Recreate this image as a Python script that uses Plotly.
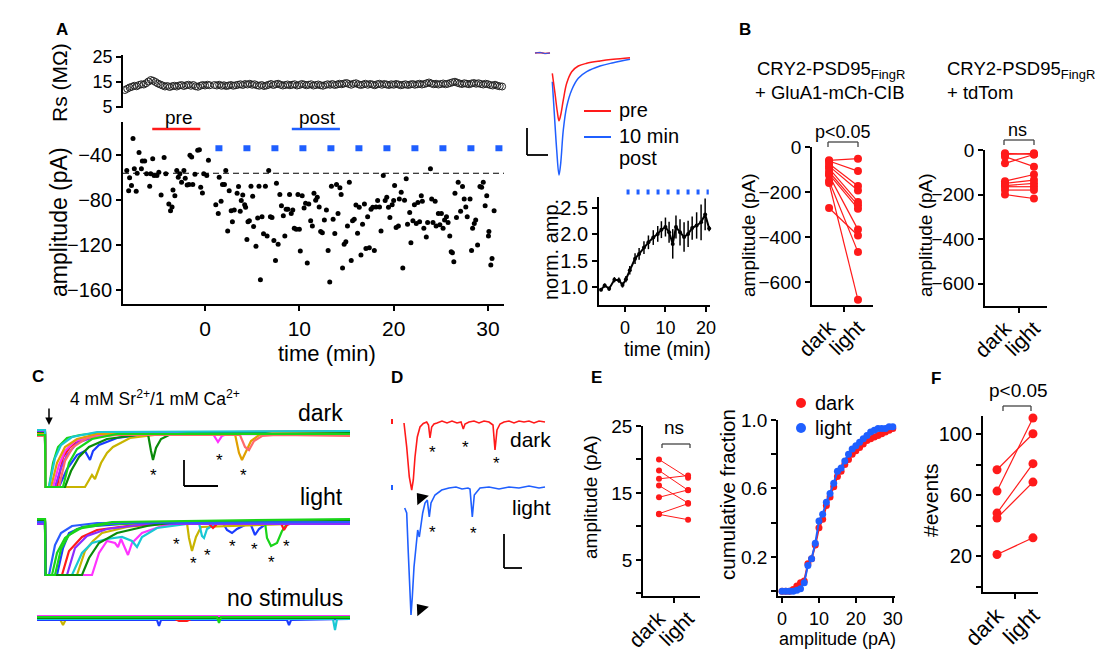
import plotly.graph_objects as go

W, H = 1118, 659
OFF = 8  # the page body adds an 8 px margin around the figure
FONT = "Liberation Sans, Arial, sans-serif"
RED = "#ff1a1a"
BLUE = "#1f5fff"

# ---------------- Panel A: amplitude vs time ----------------
amp_t = [-8.3, -8.1, -8.0, -7.8, -7.64, -7.5, -7.3, -7.2, -7.0, -6.75, -6.65, -6.4, -6.2, -5.87, -5.76,
         -5.55, -5.4, -5.1, -4.9, -4.66, -4.34, -4.16, -3.84, -3.66, -3.5, -3.4, -3.2, -3.0, -2.84, -2.67,
         -2.49, -2.24, -2.1, -1.9, -1.7, -1.6, -1.42, -1.3, -1.07, -0.78, -0.6, -0.46, -0.28, -0.14, 0.18, 0.36,
         1.14, 1.4, 1.5, 1.7, 1.85, 2.06, 2.2, 2.4, 2.56, 2.77, 2.9, 3.1, 3.4, 3.55, 3.73, 3.84, 4.0, 4.2, 4.3,
         4.44, 4.55, 4.7, 4.87, 5.05, 5.15, 5.4, 5.58, 5.72, 5.87, 6.04, 6.2, 6.4, 6.58, 6.75, 6.93, 7.1, 7.3,
         7.47, 7.57, 7.75, 7.93, 8.1, 8.3, 8.46, 8.6, 8.78, 8.96, 9.14, 9.3, 9.46, 9.67, 9.85, 10.0, 10.1, 10.3,
         10.5, 10.66, 10.84, 11.0, 11.2, 11.38, 11.55, 11.73, 11.9, 12.1, 12.26, 12.44, 12.65, 12.87, 13.05,
         13.22, 13.4, 13.58, 13.76, 13.94, 14.1, 14.3, 14.43, 14.58, 14.75, 14.93, 15.1, 15.3, 15.5, 15.64,
         15.82, 16.0, 16.17, 16.35, 16.53, 16.7, 16.9, 17.06, 17.24, 17.42, 17.6, 17.78, 17.95, 18.13, 18.3,
         18.5, 18.66, 18.9, 19.1, 19.27, 19.45, 19.6, 19.84, 20.0, 20.1, 20.26, 20.5, 20.6, 20.8, 20.97, 21.15,
         21.33, 21.47, 21.7, 21.83, 22.04, 22.2, 22.4, 22.57, 22.75, 22.93, 23.04, 23.2, 23.46, 23.6, 23.9,
         24.03, 24.17, 24.4, 24.5, 24.74, 24.9, 25.06, 25.24, 25.4, 25.6, 25.77, 25.95, 26.1, 26.23, 26.38,
         26.5, 26.66, 26.84, 27.1, 27.3, 27.48, 27.65, 27.8, 28.1, 28.26, 28.37, 28.55, 28.7, 28.9, 29.15,
         29.33, 29.5, 29.7, 29.87, 30.05, 30.1, 30.3, 30.43, 30.65, 31.75]
amp_pA = [-53.5, -71.5, -60, -67, -25, -52, -72, -56, -37.6, -52, -45, -45, -56.5, -67.6, -56.5,
          -43, -58, -58, -55, -75.4, -42, -56.5, -83.4, -89.4, -86, -71, -76, -53.5, -59.5, -56.5,
          -64, -53.5, -60.4, -66.4, -66, -40, -41.5, -66, -57, -35.5, -35, -68.5, -73.6, -56.5, -58, -44.5,
          -84, -92, -59.5, -81, -66, -66, -53.5, -107.4, -71.5, -89.4, -99.3, -88.8, -73.9, -67.9, -90, -80.4,
          -75.4, -84, -86.4, -115, -99.3, -98.4, -67.6, -76.5, -103.5, -121, -96, -67.6, -151, -94.8, -110,
          -67.6, -112, -53.5, -94.8, -95.4, -116, -133.8, -64.9, -119.4, -75, -85, -94, -112, -88, -88, -75,
          -92, -88.8, -105, -106, -75, -106, -125.4, -76, -87, -82.8, -136, -83.4, -98.4, -103, -73.9, -80,
          -77.5, -86, -108, -109, -97.8, -88.8, -124.8, -153, -67.6, -97, -109.8, -66, -92, -69, -75, -140.4,
          -119.4, -117, -103, -64, -133.8, -98.4, -97, -84.3, -109.5, -86.4, -129, -101.4, -83.4, -123, -94.8,
          -122.4, -88, -86.4, -124.8, -86, -80.4, -86, -107.4, -58, -80.4, -77.5, -86.4, -95.4, -84, -80.4, -67,
          -104.4, -103, -79, -73, -140.4, -80, -61, -101.4, -91, -118, -98.4, -84, -100.8, -82, -99.3, -76, -81,
          -105, -112.8, -100, -52, -79, -100, -81, -103, -92, -102, -92, -105, -97.8, -94.8, -100, -112, -126,
          -127, -135, -73.9, -95.4, -64, -90, -67.9, -79, -86, -94.8, -79, -124.8, -105, -100.8, -97.8, -120,
          -67.9, -68.5, -64, -85, -76, -112, -108, -137.8, -132, -89.4, -72]

# Series resistance (MOhm), one reading every 0.25 min
rs_pre = [11.8, 12.3, 12.8, 13.1, 13.5, 13.3, 13.8, 14.1, 14.0, 14.5, 15.2, 15.8, 15.5, 15.0, 14.4, 14.0,
          13.6, 13.2, 13.4, 13.0, 13.3, 13.5, 13.2, 13.6, 13.8, 13.4, 13.7, 13.9, 13.5, 13.8, 13.3, 13.1,
          13.5, 13.8, 13.6, 13.9, 13.7]
rs_post = [13.8, 13.6, 13.9, 13.5, 13.7, 13.4, 13.6, 13.8, 13.5, 13.7,
           13.9, 14.1, 13.8, 14.2, 14.0, 14.3, 13.9, 14.1, 13.7, 13.5,
           13.8, 13.4, 13.6, 13.9, 14.2, 13.8, 14.1, 14.3, 13.9, 13.6,
           13.8, 14.0, 13.7, 13.9, 14.1, 13.6, 13.8, 14.2, 14.0, 13.7,
           13.9, 14.1, 13.6, 13.8, 14.0, 13.7, 13.5, 13.8, 14.1, 13.9,
           14.2, 13.8, 14.0, 14.3, 14.1, 14.4, 14.6, 14.2, 13.9, 14.3,
           14.5, 14.1, 13.8, 14.0, 14.3, 13.9, 14.2, 14.0, 13.7, 14.1,
           14.3, 13.9, 14.2, 14.0, 13.8, 14.1, 13.9, 14.2, 14.0, 13.7,
           13.9, 14.1, 13.8, 14.0, 14.2, 13.9, 14.1, 14.3, 14.0, 14.2,
           14.5, 14.8, 14.4, 14.1, 14.3, 14.0, 14.2, 14.4, 14.1, 14.3,
           14.6, 14.9, 15.1, 14.7, 14.4, 14.2, 14.5, 14.3, 14.1, 14.4,
           14.6, 14.3, 14.5, 14.2, 14.0, 14.3, 14.1, 13.8, 13.6, 13.9,
           13.5, 13.3, 13.2, 13.1]
rs_pre_t = [-8.5 + 0.25 * i for i in range(len(rs_pre))]
rs_post_t = [1.0 + 0.25 * i for i in range(len(rs_post))]

# Example EPSC traces (inset), time in a.u., current in a.u.
ex_base_t = [-17, -12, -7, -2]
ex_base_i = [0, 0.5, -0.5, 0]
ex_pre_t = [0.3, 3, 5.3, 7, 8.7, 11.3, 14.7, 19.7, 26.3, 34.7, 48, 61.3, 78]
ex_pre_i = [-20.3, -40.3, -58.7, -67.7, -62, -47, -30.3, -18.7, -13, -10.3, -8, -6.3, -4.7]
ex_post_t = [0.3, 2.3, 4.7, 7, 8.7, 11.3, 14.7, 19.7, 26.3, 34.7, 48, 61.3, 78]
ex_post_i = [-28.7, -60.3, -97, -122, -110.3, -77, -53.7, -37, -25.3, -18.7, -13, -9.7, -6.3]

# Normalised amplitude
na_t = [-5.9, -5.0, -3.9, -2.6, -1.5, -0.6, 0.25, 1.2, 2.5, 3.5, 4.7, 5.8, 7.0, 8.1, 9.0, 10.0, 10.9,
        11.8, 12.6, 13.6, 14.6, 15.6, 16.6, 17.7, 18.8, 19.8, 20.8]
na_v = [0.95, 1.03, 0.97, 1.14, 1.13, 1.04, 1.15, 1.32, 1.54, 1.63, 1.75, 1.85, 1.94, 2.01, 2.09, 2.14, 2.04,
        1.82, 2.14, 2.04, 1.95, 2.01, 2.12, 2.17, 2.23, 2.38, 2.11]
na_err = [0.03, 0.04, 0.04, 0.05, 0.05, 0.05, 0.06, 0.08, 0.1, 0.11, 0.12, 0.13, 0.14, 0.15, 0.16, 0.18,
          0.2, 0.28, 0.22, 0.25, 0.28, 0.25, 0.22, 0.25, 0.34, 0.3, 0.05]

# ---------------- Panel B ----------------
b1_dark = [-59, -62, -74, -85, -95, -110, -120, -126, -150, -160, -271]
b1_light = [-52, -107, -173, -193, -244, -259, -274, -367, -467, -679, -393]
b2_dark = [-20, -15, -60, -30, -140, -150, -160, -165, -180, -200]
b2_light = [-15, -20, -20, -75, -110, -135, -150, -165, -180, -218]

# ---------------- Panel C: Sr2+ asynchronous traces ----------------
c_dark = [
    ("#19d419", [0, 8, 8.5, 12, 16, 21, 30, 43, 60, 313], [1, 1, -54, -54, -30, -14, -5, -2, 0, 1]),
    ("#ff1a1a", [0, 8, 8.5, 20, 26, 33, 46, 66, 100, 313], [2, 2, -54, -54, -24, -14, -5, -2, 0, 2]),
    ("#1a3cff", [0, 8, 8.5, 22, 30, 40, 48, 53, 56, 62, 80, 103, 130, 313],
     [-1, -1, -54, -54, -36, -22, -18, -27, -18, -12, -5, -2, 0, -1]),
    ("#c8b400", [0, 8, 8.5, 48, 55, 58, 64, 70, 76, 93, 126, 313],
     [0, 0, -54, -54, -42, -46, -30, -20, -14, -5, -1, 0]),
    ("#8c2cff", [0, 8, 8.5, 18, 24, 30, 40, 60, 90, 313], [1, 1, -54, -54, -35, -22, -10, -3, 0, 1]),
    ("#ff33ff", [0, 8, 8.5, 16, 22, 28, 38, 60, 90, 176, 181, 185, 190, 313],
     [-2, -2, -54, -54, -32, -18, -8, -2, -1, -1, -9, -3, -1, -2]),
    ("#0a8a0a", [0, 8, 8.5, 28, 34, 42, 52, 70, 100, 111, 114, 116, 119, 124, 132, 150, 313],
     [0, 0, -54, -54, -38, -24, -14, -6, -2, -1, -18, -27, -15, -6, -2, 0, 0]),
    ("#e0a000", [0, 8, 8.5, 14, 20, 28, 40, 60, 198, 202, 205, 209, 214, 222, 235, 313],
     [-1, -1, -54, -54, -30, -14, -6, -1, -1, -20, -27, -18, -8, -2, 0, -1]),
    ("#19c8d4", [0, 8, 8.5, 12, 18, 24, 35, 60, 313], [3, 3, -54, -54, -25, -12, -4, 1, 2]),
    ("#ff6a6a", [0, 8, 8.5, 22, 28, 36, 50, 80, 203, 208, 212, 217, 225, 240, 313],
     [-3, -3, -54, -54, -28, -14, -5, -2, -2, -14, -17, -8, -3, -2, -3]),
    ("#19d419", [0, 8, 8.5, 26, 32, 40, 55, 80, 313], [-2, -2, -54, -54, -30, -16, -6, -1, -1]),
]
c_light = [
    ("#1a3cff", [0, 8, 8.5, 20, 26, 32, 45, 70, 100, 186, 190, 195, 200, 210, 214, 218, 222, 230, 313],
     [-89, -89, -142, -142, -115, -100, -94, -92, -90, -90, -97, -100, -96, -91, -92, -102, -96, -90, -89]),
    ("#ff33ff", [0, 8, 8.5, 55, 62, 70, 78, 81, 84, 88, 91, 95, 105, 125, 150, 313],
     [-88, -88, -142, -142, -120, -108, -110, -114, -106, -116, -122, -110, -100, -93, -90, -88]),
    ("#c8b400", [0, 8, 8.5, 40, 48, 56, 65, 90, 120, 150, 152, 155, 159, 164, 313],
     [-89, -89, -142, -142, -118, -108, -100, -94, -91, -90, -105, -118, -104, -94, -89]),
    ("#19c8d4", [0, 8, 8.5, 35, 45, 55, 70, 85, 95, 100, 105, 120, 150, 162, 165, 167, 170, 178, 313],
     [-90, -90, -142, -142, -120, -110, -106, -104, -108, -114, -104, -95, -91, -90, -103, -105, -96, -91, -90]),
    ("#19d419", [0, 8, 8.5, 15, 20, 28, 40, 70, 228, 230, 234, 240, 245, 250, 313],
     [-87, -87, -142, -142, -120, -105, -96, -91, -89, -105, -113, -110, -98, -91, -87]),
    ("#ff1a1a", [0, 8, 8.5, 25, 32, 45, 60, 90, 130, 172, 176, 180, 244, 247, 250, 255, 313],
     [-90, -90, -142, -142, -118, -104, -97, -93, -91, -91, -95, -91, -90, -97, -92, -90, -90]),
    ("#8c2cff", [0, 8, 8.5, 30, 38, 50, 70, 110, 313], [-91, -91, -142, -142, -115, -103, -96, -91, -91]),
    ("#0a8a0a", [0, 8, 8.5, 45, 52, 62, 80, 110, 140, 313],
     [-88, -88, -142, -142, -125, -110, -100, -93, -89, -88]),
    ("#2a5cff", [0, 8, 8.5, 12, 18, 24, 35, 60, 313], [-89, -89, -142, -142, -112, -100, -93, -90, -89]),
    ("#19d419", [0, 8, 8.5, 18, 24, 32, 46, 75, 313], [-86, -86, -142, -142, -116, -102, -94, -89, -86]),
]
c_nostim = [
    ("#c8b400", [0, 22, 26, 30, 313], [-184, -184, -192, -184, -184]),
    ("#1a3cff", [0, 120, 122, 124, 250, 252, 254, 313], [-187, -187, -193, -187, -187, -192, -187, -186]),
    ("#ff1a1a", [0, 136, 142, 150, 156, 313], [-185, -185, -188, -188, -185, -185]),
    ("#ff33ff", [0, 313], [-183, -183]),
    ("#19c8d4", [0, 296, 298, 300, 313], [-186, -186, -197, -186, -186]),
    ("#0a8a0a", [0, 313], [-185, -185]),
    ("#19d419", [0, 180, 182, 184, 313], [-184, -184, -190, -184, -184]),
]

# ---------------- Panel D: example traces ----------------
d_dark_t = [0, 2.7, 5.3, 7.7, 9.3, 11, 13.3, 16, 19.3, 22.7, 24.5, 26, 27.7, 30, 33, 38, 43, 48, 53, 57, 59.3,
            61, 65, 70, 75, 80, 85, 89, 91, 93, 96, 100, 105, 110, 115, 120, 125, 130, 135, 141]
d_dark_i = [-1, -25, -55, -68, -58, -35, -15, -5, -1.5, 0, -3, -16, -5, -2, -1, 1, -1, 1, -1, 0, -7,
            -2, 0, 1, -1, 1, 0, -3, -28, -8, -2, 0, 1, -1, 1, 0, 1, -1, 1, 0]
d_light_t = [0.7, 2.7, 4.3, 6, 7, 8.3, 10, 12, 13.7, 15.3, 16.7, 18.7, 21, 23.3, 25.3, 27, 31, 37.7, 45, 52,
             58, 64, 66, 68.3, 70.3, 76, 85, 95, 105, 115, 125, 135, 141]
d_light_i = [-86, -91, -131, -171, -193, -175, -145, -125, -108, -115, -105, -91, -81, -78, -95, -81, -73,
             -68, -66, -65, -67, -66, -67, -95, -73, -66, -65, -67, -65, -66, -64, -66, -65]

# ---------------- Panel E ----------------
e_dark = [20.0, 18.35, 17.1, 16.1, 14.35, 11.9, 11.8]
e_light = [17.25, 15.4, 17.6, 13.5, 15.45, 13.4, 11.0]
cum_amp = list(range(0, 31))
cum_dark = [0, 0, 0, 0.01, 0.03, 0.05, 0.06, 0.16, 0.19, 0.27, 0.37, 0.42, 0.50, 0.55, 0.61, 0.67, 0.70,
            0.74, 0.77, 0.80, 0.82, 0.84, 0.86, 0.88, 0.89, 0.90, 0.91, 0.92, 0.93, 0.94, 0.95]
cum_light = [0, 0, 0, 0, 0.005, 0.015, 0.05, 0.15, 0.19, 0.28, 0.41, 0.45, 0.52, 0.57, 0.63, 0.70, 0.72,
             0.76, 0.80, 0.83, 0.85, 0.87, 0.89, 0.91, 0.93, 0.94, 0.95, 0.95, 0.95, 0.96, 0.96]

# ---------------- Panel F ----------------
f_dark = [76.8, 62.8, 48.4, 45.1, 21.3]
f_light = [100.4, 110.7, 80.8, 68.7, 32.2]


# ================= helpers =================
def X(px):
    return (px - OFF) / W


def Y(py):
    return 1 - (py - OFF) / H


def aname(n, k):
    return f"{k}axis" if n == 1 else f"{k}axis{n}"


def aref(n, k):
    return k if n == 1 else f"{k}{n}"


def fnt(size):
    return dict(family=FONT, size=size, color="black")


def minor(vals):
    return dict(tickvals=vals, ticks="outside", ticklen=5, tickwidth=1.8, tickcolor="black", showgrid=False)


def base_axis(size=19):
    return dict(showgrid=False, zeroline=False, showline=True, linecolor="black", linewidth=1.8,
                ticks="outside", ticklen=5, tickwidth=1.8, tickcolor="black", automargin=False,
                tickfont=fnt(size))


layout = dict(width=W, height=H, autosize=False,
              margin=dict(l=0, r=0, t=0, b=0, pad=0, autoexpand=False), showlegend=False,
              paper_bgcolor="white", plot_bgcolor="rgba(0,0,0,0)",
              font=dict(family=FONT, color="black"))


def add_axes(n, xpx, ypx, xr, yr, xkw=None, ykw=None, hidden=False):
    xa = base_axis()
    ya = base_axis()
    xa.update(domain=[X(xpx[0]), X(xpx[1])], range=xr, anchor=aref(n, "y"))
    ya.update(domain=[Y(ypx[1]), Y(ypx[0])], range=yr, anchor=aref(n, "x"))
    if hidden:
        xa["visible"] = False
        ya["visible"] = False
    if xkw:
        xa.update(xkw)
    if ykw:
        ya.update(ykw)
    layout[aname(n, "x")] = xa
    layout[aname(n, "y")] = ya


def cat_x(size):
    return dict(tickvals=[0, 1], ticktext=["dark", "light"], ticks="", tickangle=-45, tickfont=fnt(size),
                minor=minor([0.5]))


add_axes(1, (123, 504), (55, 108), [-8.7, 31.7], [4.6, 25.8], xkw=dict(visible=False),
         ykw=dict(tickvals=[5, 15, 25], tickfont=fnt(18)))
add_axes(2, (123, 504), (122, 304), [-8.7, 31.7], [-172.6, -10.3],
         xkw=dict(tickvals=[0, 10, 20, 30], tickfont=fnt(21)),
         ykw=dict(tickvals=[-40, -80, -120, -160], tickfont=fnt(20)))
add_axes(3, (515, 640), (45, 185), [-37, 88], [-132, 8], hidden=True)
add_axes(4, (599, 710), (197, 305), [-6.4, 21], [0.66, 2.71],
         xkw=dict(tickvals=[0, 10, 20], tickfont=fnt(18)),
         ykw=dict(tickvals=[1, 1.5, 2, 2.5], tickformat=".1f", tickfont=fnt(20)))
add_axes(5, (812, 873), (147, 305), [-0.59, 1.52], [-702, 0], xkw=cat_x(21),
         ykw=dict(tickvals=[0, -200, -400, -600]))
add_axes(6, (985, 1047), (150, 306), [-0.69, 1.45], [-701, 0], xkw=cat_x(21),
         ykw=dict(tickvals=[0, -200, -400, -600]))
add_axes(7, (30, 360), (390, 640), [-7, 323], [-207, 43], hidden=True)
add_axes(8, (385, 560), (395, 630), [-19, 156], [-208, 27], hidden=True)
add_axes(9, (643, 700), (426, 596), [-0.55, 1.41], [-0.4, 25], xkw=cat_x(21),
         ykw=dict(tickvals=[5, 15, 25], minor=minor([0, 10, 20])))
add_axes(10, (778, 895), (420, 596), [-1.1, 30.6], [-0.028, 1.0],
         xkw=dict(tickvals=[0, 10, 20, 30], tickfont=fnt(18)),
         ykw=dict(tickvals=[0.2, 0.6, 1.0], tickformat=".1f", minor=minor([0, 0.4, 0.8])))
add_axes(11, (983, 1038), (416, 592), [-0.39, 1.14], [-3.3, 112], xkw=cat_x(22),
         ykw=dict(tickvals=[20, 60, 100], minor=minor([0, 40, 80]), tickfont=fnt(20)))

fig = go.Figure()


def add(n, **kw):
    kw.setdefault("cliponaxis", False)
    fig.add_trace(go.Scatter(xaxis=aref(n, "x"), yaxis=aref(n, "y"), hoverinfo="skip", **kw))


def pairs(d, l):
    xs, ys = [], []
    for a, b in zip(d, l):
        xs += [0, 1, None]
        ys += [a, b, None]
    return xs, ys


# ---- A ----
add(1, x=rs_pre_t + rs_post_t, y=rs_pre + rs_post, mode="markers",
    marker=dict(symbol="circle-open", size=7, color="#222", line=dict(width=1)))
add(2, x=amp_t, y=amp_pA, mode="markers", marker=dict(size=5, color="black"))
add(3, x=ex_base_t, y=ex_base_i, mode="lines", line=dict(color=RED, width=1.5))
add(3, x=ex_base_t, y=ex_base_i, mode="lines", line=dict(color=BLUE, width=1.2))
add(3, x=ex_post_t, y=ex_post_i, mode="lines", line=dict(color=BLUE, width=1.5, shape="spline"))
add(3, x=ex_pre_t, y=ex_pre_i, mode="lines", line=dict(color=RED, width=1.5, shape="spline"))
add(4, x=na_t, y=na_v, mode="lines+markers", line=dict(color="black", width=2),
    marker=dict(size=4, color="black"),
    error_y=dict(type="data", array=na_err, thickness=1.5, width=0, color="black"))

# ---- B ----
bx, by = pairs(b1_dark, b1_light)
add(5, x=bx, y=by, mode="lines+markers", line=dict(color=RED, width=1.2), marker=dict(size=8, color=RED))
bx, by = pairs(b2_dark, b2_light)
add(6, x=bx, y=by, mode="lines+markers", line=dict(color=RED, width=1.2), marker=dict(size=8, color=RED))

# ---- C ----
for col, xs, ys in c_dark + c_light + c_nostim:
    add(7, x=xs, y=ys, mode="lines", line=dict(color=col, width=2.2))

# ---- D ----
add(8, x=[-12, -12], y=[3, -2], mode="lines", line=dict(color=RED, width=2))
add(8, x=d_dark_t, y=d_dark_i, mode="lines", line=dict(color=RED, width=1.6))
add(8, x=[-12, -12], y=[-63, -68], mode="lines", line=dict(color=BLUE, width=2))
add(8, x=d_light_t, y=d_light_i, mode="lines", line=dict(color=BLUE, width=1.6))
add(8, x=[17, 17], y=[-76, -187], mode="markers",
    marker=dict(symbol="triangle-up", size=13, angle=-40, color="black"))

# ---- E ----
ex_, ey_ = pairs(e_dark, e_light)
add(9, x=ex_, y=ey_, mode="lines+markers", line=dict(color=RED, width=1), marker=dict(size=6, color=RED))
add(10, x=cum_amp, y=cum_dark, mode="lines+markers", line=dict(color=RED, width=2),
    marker=dict(size=7, color=RED))
add(10, x=cum_amp, y=cum_light, mode="lines+markers", line=dict(color=BLUE, width=2),
    marker=dict(size=7, color=BLUE))

# ---- F ----
fx, fy = pairs(f_dark, f_light)
add(11, x=fx, y=fy, mode="lines+markers", line=dict(color=RED, width=1.2), marker=dict(size=9, color=RED))

# ================= annotations & shapes =================
anns = []
shapes = []


def txt(text, x, y, size=19, xref="paper", yref="paper", xanchor="center", yanchor="middle",
        angle=0, bold=False, yshift=0):
    if xref == "paper":
        x = X(x)
    if yref == "paper":
        y = Y(y)
    anns.append(dict(text=f"<b>{text}</b>" if bold else text, x=x, y=y, xref=xref, yref=yref,
                     xanchor=xanchor, yanchor=yanchor, showarrow=False, textangle=angle,
                     yshift=yshift, font=fnt(size)))


def seg(x0, y0, x1, y1, xref="paper", yref="paper", color="black", width=1.5, dash=None):
    if xref == "paper":
        x0, x1 = X(x0), X(x1)
    if yref == "paper":
        y0, y1 = Y(y0), Y(y1)
    ln = dict(color=color, width=width)
    if dash:
        ln["dash"] = dash
    shapes.append(dict(type="line", x0=x0, y0=y0, x1=x1, y1=y1, xref=xref, yref=yref, line=ln))


# panel letters
for lab, px, py in [("A", 62, 30), ("B", 745, 30), ("C", 38, 376), ("D", 397, 377), ("E", 596, 377),
                    ("F", 936, 378)]:
    txt(lab, px, py, size=17, bold=True)

# A labels
txt("Rs (MΩ)", 60, 83, size=21, angle=-90)
txt("amplitude (pA)", 59, 222, size=23, angle=-90)
txt("time (min)", 327, 353, size=22)
txt("pre", 178, 117, size=19)
txt("post", 317, 117, size=19)
seg(-5.6, -16.6, -0.5, -16.6, "x2", "y2", RED, 2.5)
seg(9.2, -16.6, 14.3, -16.6, "x2", "y2", BLUE, 2.5)
seg(-8.7, -56, 31.7, -56, "x2", "y2", "black", 1.2, "6px,4px")
seg(1.1, -33.7, 31.75, -33.7, "x2", "y2", BLUE, 6, "7px,21px")

# A inset
seg(-25, -75, -25, -102, "x3", "y3", "black", 1.8)
seg(-25, -102, -4, -102, "x3", "y3", "black", 1.8)
seg(32, -58, 59, -58, "x3", "y3", RED, 2)
seg(32, -84, 59, -84, "x3", "y3", BLUE, 2)
txt("pre", 617, 110, size=20, xanchor="left")
txt("10 min", 617, 136, size=20, xanchor="left")
txt("post", 617, 158, size=20, xanchor="left")

# norm amp
txt("norm. amp.", 551, 250, size=20, angle=-90)
txt("time (min)", 667, 349, size=19.5)
seg(0.4, 192, 20.7, 192, "x4", "paper", BLUE, 5, "3px,7px")

# B
txt("CRY2-PSD95<sub>FingR</sub>", 755, 70, size=18.5, xanchor="left")
txt("+ GluA1-mCh-CIB", 753, 93, size=18.5, xanchor="left")
txt("CRY2-PSD95<sub>FingR</sub>", 945, 70, size=18.5, xanchor="left")
txt("+ tdTom", 945, 93, size=18.5, xanchor="left")
txt("amplitude (pA)", 748, 235, size=19, angle=-90)
txt("amplitude (pA)", 925, 235, size=19, angle=-90)
txt("p&lt;0.05", 843, 132, size=18)
txt("ns", 1017, 130, size=18)
for (xa, xb, yt, yb) in [(828, 858, 142, 147), (1004, 1034, 140, 145), (662, 690, 444, 448),
                         (1003, 1031, 406, 411)]:
    seg(xa, yb, xa, yt, color="#444", width=1.3)
    seg(xa, yt, xb, yt, color="#444", width=1.3)
    seg(xb, yt, xb, yb, color="#444", width=1.3)

# C
txt("4 mM Sr<sup>2+</sup>/1 mM Ca<sup>2+</sup>", 68, 398, size=17.5, xanchor="left")
txt("dark", 308, 20, size=23, xref="x7", yref="y7", xanchor="right")
txt("light", 308, -64, size=23, xref="x7", yref="y7", xanchor="right")
txt("no stimulus", 308, -165, size=23, xref="x7", yref="y7", xanchor="right")
for (ax_, ay_) in [(116, -37), (182, -22), (206, -37), (139, -106), (156, -125), (170, -117), (195, -108),
                   (217, -111), (234, -124), (249, -108)]:
    txt("*", ax_, ay_, size=17, xref="x7", yref="y7", yshift=-5)
seg(147, -27, 147, -53, "x7", "y7", "black", 1.8)
seg(147, -53, 181, -53, "x7", "y7", "black", 1.8)
anns.append(dict(x=12, y=8, xref="x7", yref="y7", ax=0, ay=-18, showarrow=True, arrowhead=2,
                 arrowsize=1, arrowwidth=1.5, arrowcolor="black", text=""))

# D
txt("dark", 149, -17, size=21, xref="x8", yref="y8", xanchor="right")
txt("light", 149, -85, size=21, xref="x8", yref="y8", xanchor="right")
for (ax_, ay_) in [(28, -25), (61, -20), (92, -36), (28, -105), (69, -106)]:
    txt("*", ax_, ay_, size=17, xref="x8", yref="y8", yshift=-5)
seg(100, -112, 100, -146, "x8", "y8", "black", 1.8)
seg(100, -146, 118, -146, "x8", "y8", "black", 1.8)

# E
txt("ns", 674, 427, size=19)
txt("amplitude (pA)", 591, 497, size=19, angle=-90)
txt("cumulative fraction", 728, 495, size=20.5, angle=-90)
txt("amplitude (pA)", 837, 639, size=18)
txt("dark", 813, 403, size=20, xanchor="left")
txt("light", 813, 428, size=20, xanchor="left")
fig.add_trace(go.Scatter(x=[X(801), X(801)], y=[Y(403), Y(428)], xaxis="x12", yaxis="y12", mode="markers",
                         marker=dict(size=10, color=[RED, BLUE]), hoverinfo="skip", cliponaxis=False))
layout["xaxis12"] = dict(domain=[0, 1], range=[0, 1], visible=False, anchor="y12", automargin=False)
layout["yaxis12"] = dict(domain=[0, 1], range=[0, 1], visible=False, anchor="x12", automargin=False)

# F
txt("p&lt;0.05", 1018, 390, size=19)
txt("#events", 931, 500, size=21, angle=-90)

layout["annotations"] = anns
layout["shapes"] = shapes
fig.update_layout(**layout)
fig.write_html("out.html")
